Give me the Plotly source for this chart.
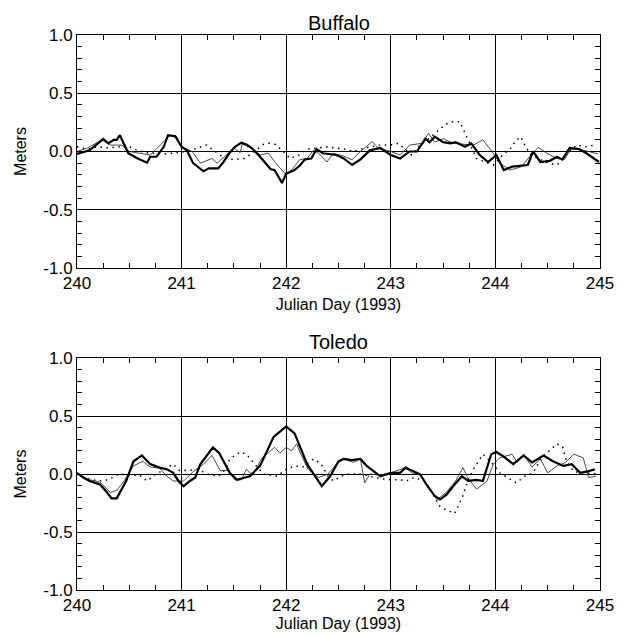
import plotly.graph_objects as go

# ---------------- data ----------------
# Buffalo
buf_thick_x = [240.00,240.12,240.20,240.25,240.30,240.35,240.38,240.41,240.49,240.58,240.67,240.70,240.76,240.83,240.87,240.94,241.00,241.05,241.11,241.21,241.26,241.35,241.40,241.46,241.51,241.57,241.62,241.67,241.75,241.85,241.89,241.96,242.00,242.08,242.13,242.18,242.24,242.29,242.35,242.48,242.55,242.63,242.71,242.80,242.90,243.00,243.09,243.18,243.25,243.33,243.37,243.42,243.50,243.57,243.62,243.71,243.77,243.85,243.93,244.01,244.08,244.16,244.31,244.36,244.43,244.52,244.59,244.64,244.71,244.80,244.87,244.95,244.99]
buf_thick_y = [-0.02,0.01,0.07,0.107,0.07,0.10,0.10,0.14,-0.015,-0.06,-0.096,-0.045,-0.045,0.04,0.14,0.13,0.04,0.01,-0.10,-0.17,-0.145,-0.145,-0.09,-0.01,0.04,0.075,0.06,0.03,-0.045,-0.15,-0.16,-0.27,-0.19,-0.16,-0.12,-0.067,-0.06,0.02,-0.015,-0.03,-0.06,-0.116,-0.067,0.01,0.03,-0.03,-0.06,0.0,0.0,0.11,0.08,0.127,0.08,0.07,0.08,0.04,0.07,-0.03,-0.09,-0.03,-0.16,-0.13,-0.116,0.0,-0.09,-0.08,-0.045,-0.07,0.03,0.02,-0.015,-0.07,-0.09]

buf_thin_x = [240.00,240.10,240.24,240.32,240.43,240.50,240.60,240.70,240.74,240.78,240.89,240.95,241.00,241.10,241.18,241.29,241.34,241.41,241.50,241.56,241.58,241.67,241.75,241.83,241.90,242.00,242.06,242.13,242.20,242.26,242.31,242.39,242.45,242.55,242.63,242.71,242.82,242.88,243.00,243.09,243.18,243.30,243.36,243.42,243.50,243.60,243.70,243.79,243.88,243.98,244.04,244.14,244.25,244.33,244.41,244.49,244.59,244.66,244.72,244.79,244.89,244.98]
buf_thin_y = [0.0,0.03,0.10,0.055,0.055,0.0,-0.015,-0.03,0.005,0.04,0.14,0.13,0.04,0.0,-0.10,-0.06,-0.10,-0.045,0.03,-0.01,0.065,0.03,-0.03,-0.015,-0.10,-0.20,-0.15,-0.07,-0.06,0.01,-0.015,-0.09,-0.015,-0.04,-0.07,0.0,0.085,0.03,0.0,-0.03,0.055,0.07,0.156,0.08,0.11,0.07,0.06,0.055,0.10,-0.015,-0.10,-0.16,-0.13,-0.04,0.035,-0.015,-0.06,-0.07,0.02,0.02,0.0,-0.02]

buf_dot_x = [240.00,240.10,240.20,240.30,240.40,240.47,240.55,240.65,240.75,240.85,240.95,241.05,241.15,241.24,241.32,241.40,241.50,241.60,241.70,241.78,241.83,241.90,241.97,242.04,242.12,242.20,242.30,242.39,242.48,242.56,242.65,242.75,242.90,243.00,243.07,243.12,243.20,243.28,243.35,243.44,243.52,243.58,243.66,243.71,243.77,243.82,243.90,243.98,244.08,244.14,244.19,244.24,244.29,244.34,244.43,244.51,244.59,244.68,244.78,244.87,244.97]
buf_dot_y = [0.04,0.02,0.04,0.03,0.04,0.055,0.02,-0.01,-0.015,-0.02,-0.01,0.0,0.03,0.055,0.0,-0.05,-0.07,-0.06,0.0,0.06,0.07,0.06,0.0,-0.06,-0.03,0.02,0.03,0.04,0.03,0.02,0.0,0.03,0.055,0.055,0.07,0.03,-0.03,0.055,0.10,0.17,0.23,0.256,0.256,0.156,0.04,-0.06,-0.09,-0.116,-0.02,0.02,0.085,0.127,0.04,-0.03,-0.07,-0.10,-0.116,-0.02,0.055,0.04,0.06]

# Toledo
tol_thick_x = [240.00,240.06,240.12,240.22,240.28,240.33,240.38,240.47,240.54,240.62,240.70,240.79,240.86,240.92,240.97,241.02,241.08,241.13,241.18,241.30,241.36,241.46,241.53,241.65,241.75,241.88,242.00,242.08,242.20,242.34,242.42,242.50,242.55,242.63,242.71,242.77,242.90,243.00,243.09,243.14,243.20,243.28,243.34,243.42,243.47,243.53,243.61,243.68,243.74,243.82,243.88,243.96,244.01,244.08,244.17,244.27,244.35,244.46,244.55,244.65,244.73,244.81,244.87,244.95]
tol_thick_y = [0.01,-0.03,-0.06,-0.09,-0.15,-0.21,-0.21,-0.06,0.11,0.16,0.085,0.055,0.04,0.01,-0.06,-0.105,-0.06,-0.03,0.085,0.23,0.18,0.01,-0.05,-0.02,0.07,0.32,0.41,0.35,0.085,-0.105,-0.02,0.11,0.13,0.12,0.13,0.07,-0.02,0.01,0.01,0.055,0.03,-0.003,-0.09,-0.19,-0.22,-0.18,-0.09,-0.02,-0.06,-0.05,-0.06,0.17,0.19,0.15,0.085,0.16,0.10,0.16,0.11,0.07,0.085,0.01,0.02,0.04]

tol_thin_x = [240.00,240.12,240.22,240.32,240.38,240.45,240.54,240.63,240.70,240.79,240.86,240.92,241.02,241.11,241.21,241.29,241.37,241.44,241.51,241.57,241.62,241.68,241.77,241.82,241.89,241.94,242.00,242.05,242.10,242.14,242.21,242.31,242.40,242.48,242.55,242.64,242.71,242.75,242.80,242.90,243.00,243.14,243.20,243.28,243.37,243.44,243.53,243.62,243.69,243.74,243.82,243.92,243.98,244.04,244.16,244.21,244.27,244.35,244.43,244.50,244.59,244.67,244.75,244.84,244.89,244.96]
tol_thin_y = [0.0,-0.05,-0.07,-0.16,-0.14,-0.06,0.07,0.11,0.06,0.05,-0.02,-0.06,-0.06,0.02,0.085,0.16,0.03,0.03,-0.05,-0.05,0.04,-0.01,0.14,0.18,0.23,0.18,0.23,0.20,0.26,0.17,0.04,-0.03,0.0,0.085,0.13,0.10,0.13,-0.076,0.0,-0.01,0.01,0.055,0.01,-0.003,-0.12,-0.22,-0.16,-0.06,0.055,-0.04,-0.13,-0.06,0.085,0.14,0.17,0.10,0.17,0.06,0.13,0.01,0.07,0.10,0.17,0.14,-0.03,-0.02]

tol_dot_x = [240.00,240.10,240.20,240.30,240.40,240.50,240.60,240.67,240.74,240.80,240.86,240.92,240.98,241.05,241.15,241.25,241.35,241.42,241.46,241.56,241.62,241.70,241.78,241.91,242.00,242.08,242.16,242.26,242.33,242.40,242.45,242.52,242.60,242.70,242.80,242.90,243.00,243.08,243.15,243.22,243.33,243.40,243.47,243.53,243.61,243.68,243.74,243.80,243.88,243.94,244.00,244.04,244.12,244.20,244.28,244.36,244.44,244.52,244.59,244.64,244.68,244.75,244.85,244.97]
tol_dot_y = [0.0,-0.04,-0.06,-0.05,0.0,-0.01,-0.01,-0.06,-0.01,0.02,0.055,0.085,0.03,0.03,0.04,0.0,-0.02,0.04,0.13,0.19,0.17,0.08,0.0,-0.02,0.04,0.07,0.06,0.13,0.09,-0.02,-0.06,-0.02,0.0,0.0,-0.02,-0.04,-0.05,-0.05,-0.06,-0.03,-0.06,-0.17,-0.28,-0.31,-0.34,-0.21,-0.05,0.055,0.17,0.12,0.06,0.01,-0.03,-0.076,-0.02,0.01,0.14,0.20,0.26,0.24,0.11,0.02,0.01,0.0]

panel_titles = ["Buffalo", "Toledo"]
x_tick_vals = [240, 241, 242, 243, 244, 245]
x_tick_text = ["240", "241", "242", "243", "244", "245"]
y_tick_vals = [-1.0, -0.5, 0.0, 0.5, 1.0]
y_tick_text = ["-1.0", "-0.5", "0.0", "0.5", "1.0"]
x_title = "Julian Day (1993)"
y_title = "Meters"

# ---------------- figure ----------------
FONT = "Liberation Sans, Arial, Helvetica, sans-serif"
fig = go.Figure()

panels = [
    (buf_thick_x, buf_thick_y, buf_thin_x, buf_thin_y, buf_dot_x, buf_dot_y, "x", "y"),
    (tol_thick_x, tol_thick_y, tol_thin_x, tol_thin_y, tol_dot_x, tol_dot_y, "x2", "y2"),
]
for tkx, tky, tnx, tny, dx, dy, xa, ya in panels:
    fig.add_trace(go.Scatter(x=dx, y=dy, mode="lines", xaxis=xa, yaxis=ya,
                             line=dict(color="black", width=1.5, dash="1.5px,4.5px"),
                             showlegend=False))
    fig.add_trace(go.Scatter(x=tnx, y=tny, mode="lines", xaxis=xa, yaxis=ya,
                             line=dict(color="#333333", width=0.9),
                             showlegend=False))
    fig.add_trace(go.Scatter(x=tkx, y=tky, mode="lines", xaxis=xa, yaxis=ya,
                             line=dict(color="black", width=2.2),
                             showlegend=False))

def xaxis_cfg(anchor, standoff):
    return dict(range=[240, 245], tickvals=x_tick_vals, ticktext=x_tick_text,
                ticks="inside", ticklen=10, tickcolor="black",
                showline=True, linecolor="black", linewidth=1, mirror="allticks",
                showgrid=True, gridcolor="black", gridwidth=1, zeroline=False,
                minor=dict(dtick=0.25, tick0=240, ticks="inside", ticklen=5,
                           tickcolor="black", showgrid=False),
                tickfont=dict(family=FONT, size=17, color="black"),
                title=dict(text=x_title, font=dict(family=FONT, size=16, color="black"),
                           standoff=standoff),
                automargin=False, anchor=anchor, fixedrange=True)

def yaxis_cfg(anchor, domain):
    return dict(range=[-1.0, 1.0], tickvals=y_tick_vals, ticktext=y_tick_text,
                ticks="inside", ticklen=10, tickcolor="black",
                showline=True, linecolor="black", linewidth=1, mirror="allticks",
                showgrid=True, gridcolor="black", gridwidth=1, zeroline=False,
                minor=dict(dtick=0.1, tick0=0, ticks="inside", ticklen=5,
                           tickcolor="black", showgrid=False),
                tickfont=dict(family=FONT, size=17, color="black"),
                title=dict(text=y_title, font=dict(family=FONT, size=16, color="black"),
                           standoff=12),
                automargin=False, domain=domain, anchor=anchor, fixedrange=True)

# page body has an 8px default margin, so the figure is drawn 8px smaller
fig.update_layout(
    width=616, height=628,
    margin=dict(l=69, r=24, t=27, b=46, autoexpand=False),
    paper_bgcolor="white", plot_bgcolor="white",
    xaxis=xaxis_cfg("y", 6),
    yaxis=yaxis_cfg("x", [0.5802, 1.0]),
    xaxis2=xaxis_cfg("y2", 0),
    yaxis2=yaxis_cfg("x2", [0.0, 0.418]),
    annotations=[
        dict(text=panel_titles[0], x=0.5, y=1.0, xref="paper", yref="paper",
             yanchor="bottom", yshift=0, borderpad=0, showarrow=False,
             font=dict(family=FONT, size=20, color="black")),
        dict(text=panel_titles[1], x=0.5, y=0.418, xref="paper", yref="paper",
             yanchor="bottom", yshift=4, borderpad=0, showarrow=False,
             font=dict(family=FONT, size=20, color="black")),
    ],
)

fig.write_html("out.html")
